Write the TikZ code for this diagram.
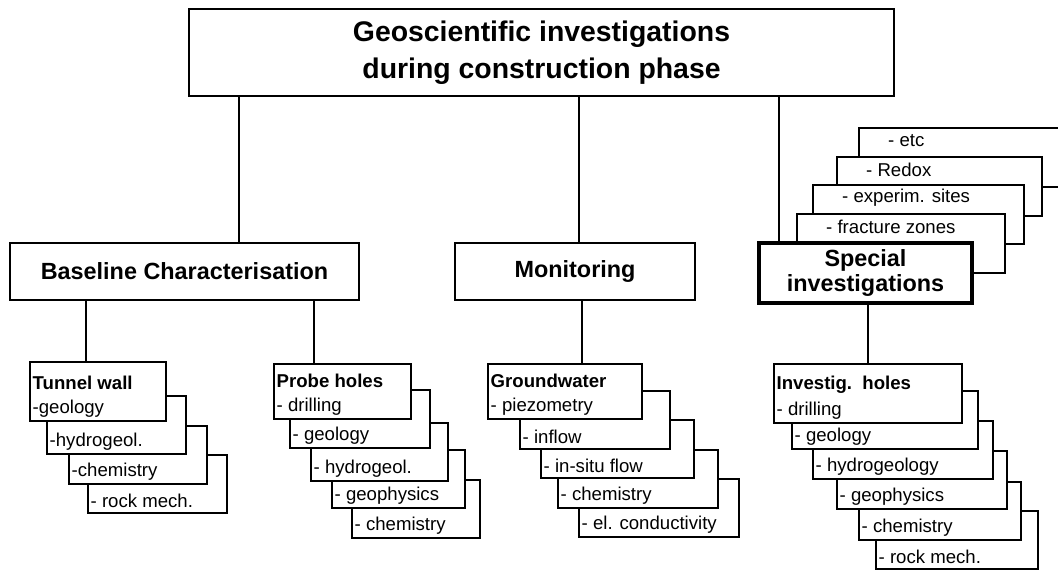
\documentclass[tikz,border=0pt]{standalone}
\usepackage{fontspec}
\setmainfont{Liberation Sans}
\usetikzlibrary{positioning}

\tikzset{
    topbox/.style={draw, line width=2pt, minimum width=705pt, minimum height=87pt,
        align=center, font=\fontsize{28.4}{37}\selectfont\bfseries},
    mainbox/.style={draw, line width=2pt, minimum height=57pt,
        align=center, font=\fontsize{23.4}{25}\selectfont\bfseries},
    itembox/.style={draw, fill=white, line width=1.5pt, minimum height=58pt, anchor=north west},
    itemtext/.style={anchor=west, inner sep=0pt, font=\fontsize{18.6}{22}\selectfont},
    itemhead/.style={itemtext, font=\fontsize{18.6}{22}\selectfont\bfseries},
    link/.style={line width=1.5pt}
}

% box of a stack, text at the bottom left
\newcommand{\stackitem}[5][]{%
    \node [itembox, minimum width=#4pt, #1] (#2) at (#3) {};
    \node [itemtext] (#2-txt) at ([shift={(3.5pt,13pt)}]#2.south west) {#5};
}
% box of the side stack, text at the top
\newcommand{\sidestack}[4]{%
    \node [itembox, minimum width=#3pt, minimum height=59pt] (#1) at (#2) {};
    \node [itemtext] (#1-txt) at ([shift={(30pt,-14pt)}]#1.north west) {#4};
}

\begin{document}
\begin{tikzpicture}[x=1pt, y=-1pt]
    \useasboundingbox (0,0) rectangle (1058,570);
    \clip (0,0) rectangle (1058,570);

    \node [topbox] (top) at (541.5,52.5) {Geoscientific investigations\\during construction phase};
    \node [mainbox, minimum width=349pt] (basel) at (184.5,271.5) {Baseline Characterisation};
    \node [mainbox, minimum width=240pt] (monit) at (575,271.5) {Monitoring};

    \sidestack{etc}{858,127}{222}{- etc}
    \sidestack{redox}{836,156}{205}{- Redox}
    \sidestack{sites}{812,184}{211}{- experim. sites}
    \sidestack{fract}{796,213}{208}{- fracture zones}
    \node [mainbox, fill=white, minimum width=213pt, minimum height=60pt, line width=3.5pt] (special) at (865.5,273) {Special\\investigations};

    % tunnel wall
    \stackitem{tw4}{87,454}{139}{- rock mech.}
    \stackitem{tw3}{68,425}{138}{-chemistry}
    \stackitem{tw2}{46,395}{139}{-hydrogeol.}
    \stackitem[minimum height=59pt]{tunnel}{29,361}{136}{-geology}
    \node [itemhead] (tunnel-head) at ([shift={(3.5pt,-22pt)}]tunnel.north west) {Tunnel wall};

    % probe holes
    \stackitem{ph5}{351,479}{128}{- chemistry}
    \stackitem{ph4}{331,449}{133}{- geophysics}
    \stackitem{ph3}{310,422}{137}{- hydrogeol.}
    \stackitem{ph2}{289,389}{140}{- geology}
    \stackitem[minimum height=55pt]{probe}{273,363}{137}{- drilling}
    \node [itemhead] (probe-head) at ([shift={(3.5pt,-18pt)}]probe.north west) {Probe holes};

    % groundwater
    \stackitem{gw5}{578,478}{160}{- el. conductivity}
    \stackitem{gw4}{557,449}{160}{- chemistry}
    \stackitem{gw3}{540,419}{153}{- in-situ flow}
    \stackitem{gw2}{519,390}{150}{- inflow}
    \stackitem[minimum height=55pt]{ground}{487,363}{154}{- piezometry}
    \node [itemhead] (ground-head) at ([shift={(3.5pt,-18pt)}]ground.north west) {Groundwater};

    % investigation holes
    \stackitem{ih6}{875,510}{162}{- rock mech.}
    \stackitem{ih5}{858,481}{162}{- chemistry}
    \stackitem{ih4}{836,450}{170}{- geophysics}
    \stackitem{ih3}{812,420}{180}{- hydrogeology}
    \stackitem{ih2}{791,390}{186}{- geology}
    \stackitem[minimum height=59pt]{investig}{773,363}{188}{- drilling}
    \node [itemhead] (investig-head) at ([shift={(3.5pt,-22pt)}]investig.north west) {Investig.\ \ holes};

    \draw [link] ([xshift=54.5pt]basel.north) -- ([xshift=54.5pt]basel.north |- top.south);
    \draw [link] ([xshift=4pt]monit.north) -- ([xshift=4pt]monit.north |- top.south);
    \draw [link] ([xshift=-86.5pt]special.north) -- ([xshift=-86.5pt]special.north |- top.south);
    \draw [link] ([xshift=-12pt]tunnel.north) -- ([xshift=-12pt]tunnel.north |- basel.south);
    \draw [link] ([xshift=-28.5pt]probe.north) -- ([xshift=-28.5pt]probe.north |- basel.south);
    \draw [link] ([xshift=17pt]ground.north) -- ([xshift=17pt]ground.north |- monit.south);
    \draw [link] (investig.north) -- (investig.north |- special.south);
\end{tikzpicture}
\end{document}
